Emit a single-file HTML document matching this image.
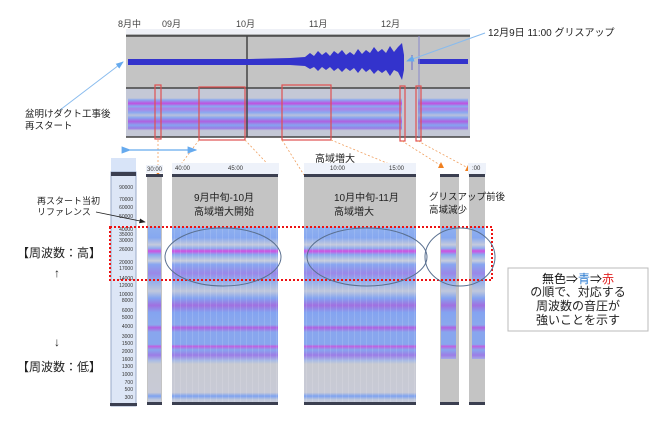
<!DOCTYPE html>
<html><head><meta charset="utf-8"><style>
body{margin:0;background:#fff;}
svg{display:block;font-family:"Liberation Sans","Noto Sans CJK JP",sans-serif;}
</style></head><body>
<svg width="671" height="425" viewBox="0 0 671 425" xmlns="http://www.w3.org/2000/svg">
<defs>
<linearGradient id="sp" gradientUnits="userSpaceOnUse" x1="0" y1="227" x2="0" y2="405">
<stop offset="0" stop-color="#8fb0ee"/>
<stop offset="0.06" stop-color="#86a8f0"/>
<stop offset="0.10" stop-color="#c4cadc"/>
<stop offset="0.12" stop-color="#90acee"/>
<stop offset="0.135" stop-color="#d050e0"/>
<stop offset="0.155" stop-color="#8aa8f0"/>
<stop offset="0.19" stop-color="#c8cedc"/>
<stop offset="0.21" stop-color="#88a6f0"/>
<stop offset="0.26" stop-color="#9a88e8"/>
<stop offset="0.30" stop-color="#90acec"/>
<stop offset="0.36" stop-color="#c0c8dc"/>
<stop offset="0.40" stop-color="#84a4f0"/>
<stop offset="0.44" stop-color="#a070e0"/>
<stop offset="0.48" stop-color="#84a4f0"/>
<stop offset="0.55" stop-color="#8aa8ee"/>
<stop offset="0.565" stop-color="#b060e0"/>
<stop offset="0.59" stop-color="#88a6ee"/>
<stop offset="0.66" stop-color="#88a6ee"/>
<stop offset="0.67" stop-color="#c060e0"/>
<stop offset="0.69" stop-color="#88a6ee"/>
<stop offset="0.72" stop-color="#9c7ce6"/>
<stop offset="0.75" stop-color="#a8bce6"/>
<stop offset="0.77" stop-color="#c8cad2"/>
<stop offset="0.93" stop-color="#c8cad6"/>
<stop offset="0.95" stop-color="#7ea2f0"/>
<stop offset="0.97" stop-color="#c0c8dc"/>
<stop offset="1" stop-color="#c8cad4"/>
</linearGradient>
<linearGradient id="ts" gradientUnits="userSpaceOnUse" x1="0" y1="90" x2="0" y2="135">
<stop offset="0" stop-color="#c4c8d6"/>
<stop offset="0.18" stop-color="#c4c8d6"/>
<stop offset="0.22" stop-color="#8aa8f0"/>
<stop offset="0.30" stop-color="#c050e0"/>
<stop offset="0.36" stop-color="#8aa8f0"/>
<stop offset="0.42" stop-color="#b080e6"/>
<stop offset="0.50" stop-color="#8aa8f0"/>
<stop offset="0.56" stop-color="#b8c0dc"/>
<stop offset="0.62" stop-color="#86a4f0"/>
<stop offset="0.70" stop-color="#b060e0"/>
<stop offset="0.78" stop-color="#86a4f0"/>
<stop offset="0.85" stop-color="#9a7ce6"/>
<stop offset="0.90" stop-color="#c4c8d6"/>
<stop offset="1" stop-color="#c4c8d6"/>
</linearGradient>
<pattern id="vt" width="6" height="10" patternUnits="userSpaceOnUse"><rect x="0" y="0" width="1" height="10" fill="#ffffff" opacity="0.12"/></pattern>
<marker id="ab" markerWidth="8" markerHeight="8" refX="7" refY="4" orient="auto"><path d="M0,1 L8,4 L0,7z" fill="#66aaee"/></marker>
<marker id="ak" markerWidth="8" markerHeight="8" refX="7" refY="4" orient="auto"><path d="M0,1 L8,4 L0,7z" fill="#222"/></marker>
</defs>

<text x="118" y="27" font-size="9" fill="#444">8月中</text>
<text x="162" y="27" font-size="9" fill="#444">09月</text>
<text x="236" y="27" font-size="9" fill="#444">10月</text>
<text x="309" y="27" font-size="9" fill="#444">11月</text>
<text x="381" y="27" font-size="9" fill="#444">12月</text>
<rect x="126" y="29" width="344" height="6" fill="#eef0f6"/>
<line x1="126" y1="35" x2="470" y2="35" stroke="#777" stroke-width="1"/>
<rect x="126" y="36" width="344" height="52" fill="#c4c4c4"/>
<rect x="126" y="88" width="344" height="49" fill="#c4c8d6"/>
<rect x="128" y="97" width="274" height="36" fill="url(#ts)"/>
<rect x="418" y="97" width="50" height="36" fill="url(#ts)"/>
<line x1="126" y1="36" x2="470" y2="36" stroke="#444" stroke-width="1.5"/>
<line x1="126" y1="88" x2="470" y2="88" stroke="#444" stroke-width="1.5"/>
<line x1="126" y1="137" x2="470" y2="137" stroke="#444" stroke-width="1.5"/>
<line x1="247" y1="36" x2="247" y2="137" stroke="#444" stroke-width="1.5"/>
<rect x="128" y="59" width="276" height="6" fill="#3333cc"/>
<path d="M250,59 L290,58 L305,57 L310,53 L314,56 L318,51 L322,55 L326,52 L330,56 L334,51 L338,54 L342,50 L346,55 L350,52 L354,55 L358,49 L362,54 L366,50 L370,53 L374,47 L378,52 L382,49 L386,53 L390,46 L394,52 L398,47 L402,43 L404,55 L404,70 L402,80 L398,72 L394,70 L390,76 L386,70 L382,73 L378,70 L374,74 L370,69 L366,72 L362,68 L358,73 L354,68 L350,71 L346,68 L342,72 L338,68 L334,71 L330,67 L326,70 L322,67 L318,71 L314,67 L310,69 L305,66 L290,65 L250,65z" fill="#3333cc"/>
<rect x="418" y="59" width="50" height="5" fill="#3333cc"/>
<line x1="412" y1="55" x2="412" y2="70" stroke="#6666cc"/>
<line x1="419" y1="36" x2="419" y2="137" stroke="#8888cc"/>
<g fill="none" stroke="#e05050" stroke-width="1.2">
<rect x="155" y="85" width="6" height="54"/>
<rect x="199" y="87" width="46" height="53"/>
<rect x="282" y="85" width="49" height="55"/>
<rect x="400" y="86" width="5" height="55"/>
<rect x="416" y="86" width="5" height="55"/>
</g>
<g stroke="#f0a060" stroke-width="0.8" stroke-dasharray="2,2" fill="none">
<line x1="158" y1="140" x2="158" y2="170"/>
<line x1="199" y1="140" x2="173" y2="175"/>
<line x1="245" y1="140" x2="278" y2="175"/>
<line x1="282" y1="140" x2="304" y2="175"/>
<line x1="331" y1="140" x2="416" y2="175"/>
<line x1="402" y1="141" x2="440" y2="165"/>
<line x1="418" y1="141" x2="468" y2="168"/>
</g>
<path d="M155,170 L161,170 L158,176z" fill="#f08020"/>
<path d="M438,168 L444,168 L441,162z" fill="#f08020"/>
<path d="M465,171 L471,171 L468,165z" fill="#f08020"/>
<line x1="130" y1="150" x2="196" y2="150" stroke="#66aaee" stroke-width="1.2" marker-end="url(#ab)" marker-start="url(#ab)" />
<line x1="60" y1="110" x2="123" y2="62" stroke="#88bbee" stroke-width="1" marker-end="url(#ab)"/>
<line x1="485" y1="33" x2="407" y2="61" stroke="#88bbee" stroke-width="1" marker-end="url(#ab)"/>
<text x="488" y="36" font-size="10" fill="#222">12月9日 11:00 グリスアップ</text>
<text x="25" y="117" font-size="9.5" fill="#222">盆明けダクト工事後</text>
<text x="25" y="129" font-size="9.5" fill="#222">再スタート</text>

<rect x="111" y="158" width="25" height="248" fill="#d8e4f8"/>
<rect x="111" y="172" width="25" height="234" fill="#dde6f6" stroke="#99aac8" stroke-width="1"/>
<rect x="111" y="172" width="25" height="4" fill="#3b3f50"/>
<rect x="110" y="403" width="27" height="3" fill="#3b3f50"/>
<g font-size="5" fill="#333" text-anchor="end">
<text x="133" y="189">90000</text><text x="133" y="201">70000</text><text x="133" y="209">60000</text>
<text x="133" y="218">50000</text><text x="133" y="231">40000</text><text x="133" y="236">35000</text>
<text x="133" y="242">30000</text><text x="133" y="251">26000</text><text x="133" y="264">20000</text>
<text x="133" y="270">17000</text><text x="133" y="280">14000</text><text x="133" y="287">12000</text>
<text x="133" y="296">10000</text><text x="133" y="302">8000</text><text x="133" y="312">6000</text>
<text x="133" y="319">5000</text><text x="133" y="328">4000</text><text x="133" y="338">3000</text>
<text x="133" y="345">1500</text><text x="133" y="353">2000</text><text x="133" y="361">1600</text>
<text x="133" y="368">1300</text><text x="133" y="376">1000</text><text x="133" y="384">700</text>
<text x="133" y="391">500</text><text x="133" y="399">300</text>
</g>
<g>
<rect x="146" y="165" width="17" height="8" fill="#eef2fa"/>
<rect x="147" y="175" width="15" height="230" fill="#c4c4c4"/>
<rect x="148" y="227" width="13" height="176" fill="url(#sp)"/>
<rect x="146" y="174" width="17" height="3" fill="#3b3f50"/><rect x="147" y="402" width="15" height="3" fill="#3b3f50"/>
<text x="147" y="171" font-size="6" fill="#333">30:00</text>

<rect x="172" y="163" width="107" height="12" fill="#eef2fa"/>
<rect x="172" y="175" width="106" height="230" fill="#c4c4c4"/>
<rect x="172" y="227" width="106" height="176" fill="url(#sp)"/>
<rect x="172" y="227" width="106" height="176" fill="url(#vt)"/>
<rect x="172" y="174" width="106" height="3" fill="#3b3f50"/><rect x="172" y="402" width="106" height="3" fill="#3b3f50"/>
<text x="175" y="170" font-size="6" fill="#333">40:00</text><text x="228" y="170" font-size="6" fill="#333">45:00</text>

<rect x="304" y="163" width="112" height="12" fill="#eef2fa"/>
<rect x="304" y="175" width="112" height="230" fill="#c4c4c4"/>
<rect x="304" y="227" width="112" height="176" fill="url(#sp)"/>
<rect x="304" y="227" width="112" height="176" fill="url(#vt)"/>
<rect x="304" y="174" width="112" height="3" fill="#3b3f50"/><rect x="304" y="402" width="112" height="3" fill="#3b3f50"/>
<text x="330" y="170" font-size="6" fill="#333">10:00</text><text x="389" y="170" font-size="6" fill="#333">15:00</text>

<rect x="440" y="175" width="19" height="230" fill="#c4c4c4"/>
<rect x="441" y="227" width="15" height="132" fill="url(#sp)"/>
<rect x="440" y="174" width="19" height="3" fill="#3b3f50"/><rect x="440" y="402" width="19" height="3" fill="#3b3f50"/>

<rect x="468" y="163" width="18" height="12" fill="#eef2fa"/>
<rect x="469" y="175" width="16" height="230" fill="#c4c4c4"/>
<rect x="472" y="227" width="13" height="132" fill="url(#sp)"/>
<rect x="469" y="174" width="16" height="3" fill="#3b3f50"/><rect x="469" y="402" width="16" height="3" fill="#3b3f50"/>
<text x="472" y="170" font-size="6" fill="#333">:00</text>
</g>
<rect x="110" y="227" width="382" height="53" fill="none" stroke="#ee1111" stroke-width="2" stroke-dasharray="2,2"/>
<g fill="none" stroke="#5a7090" stroke-width="1">
<ellipse cx="223" cy="257" rx="58" ry="29"/>
<ellipse cx="367" cy="257" rx="60" ry="29"/>
<ellipse cx="460" cy="257" rx="35" ry="29"/>
</g>
<text x="194" y="201" font-size="10" fill="#222">9月中旬-10月</text>
<text x="194" y="215" font-size="10" fill="#222">高域増大開始</text>
<text x="334" y="201" font-size="10" fill="#222">10月中旬-11月</text>
<text x="334" y="215" font-size="10" fill="#222">高域増大</text>
<text x="315" y="162" font-size="10" fill="#222">高域増大</text>
<text x="429" y="200" font-size="9.5" fill="#222">グリスアップ前後</text>
<text x="429" y="213" font-size="9.5" fill="#222">高域減少</text>
<text x="37" y="204" font-size="9" fill="#222">再スタート当初</text>
<text x="37" y="215" font-size="9" fill="#222">リファレンス</text>
<line x1="96" y1="212" x2="145" y2="222" stroke="#222" stroke-width="0.8" marker-end="url(#ak)"/>
<text x="17" y="257" font-size="12" fill="#222">【周波数：高】</text>
<text x="54" y="277" font-size="12" fill="#222">↑</text>
<text x="54" y="346" font-size="12" fill="#222">↓</text>
<text x="17" y="371" font-size="12" fill="#222">【周波数：低】</text>
<rect x="508" y="268" width="140" height="63" fill="#fff" stroke="#bbb"/>
<text x="578" y="283" font-size="12" text-anchor="middle" fill="#111">無色⇒<tspan fill="#2a7ad0">青</tspan>⇒<tspan fill="#e02020">赤</tspan></text>
<text x="578" y="296" font-size="12" text-anchor="middle" fill="#222">の順で、対応する</text>
<text x="578" y="310" font-size="12" text-anchor="middle" fill="#222">周波数の音圧が</text>
<text x="578" y="324" font-size="12" text-anchor="middle" fill="#222">強いことを示す</text>
</svg>
</body></html>
